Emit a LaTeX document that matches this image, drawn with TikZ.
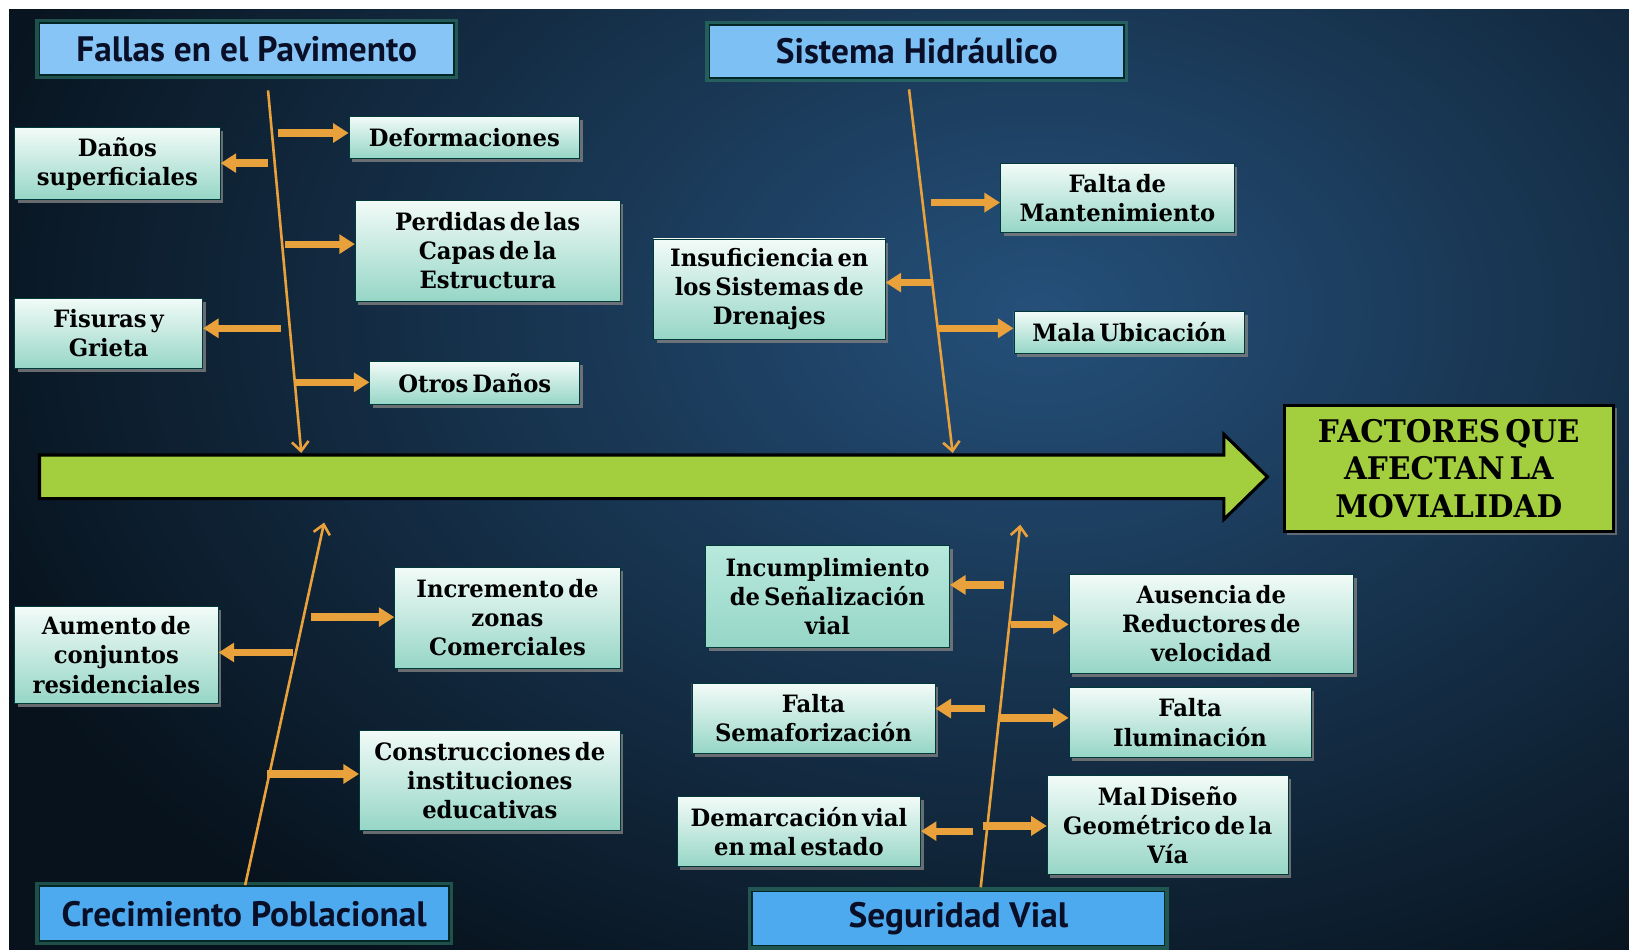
\documentclass[tikz,border=0pt]{standalone}
\usepackage{fontspec}
\setmainfont{DejaVu Serif}[FakeStretch=0.95,WordSpace=0.5]
\newfontfamily\hdrfont{PT Sans}
\usetikzlibrary{arrows.meta,shadows,calc}
\definecolor{hdrA}{HTML}{86C5F5}
\definecolor{hdrB}{HTML}{4DAAEE}
\definecolor{glowc}{HTML}{2E7A68}
\definecolor{boxtop}{HTML}{F2FBF8}
\definecolor{boxbot}{HTML}{96D6C6}
\definecolor{boxtopB}{HTML}{B8E9DD}
\definecolor{orng}{HTML}{E9A23B}
\definecolor{lime}{HTML}{A3CF3E}
\definecolor{bgin}{HTML}{25507A}
\definecolor{bgout}{HTML}{07121C}
\definecolor{hdrtext}{HTML}{0A0F28}
\newcommand\causefnt{\bfseries\fontsize{23}{28}\selectfont}
\newcommand\hdrfnt{\hdrfont\bfseries\fontsize{34}{36}\selectfont}
\newcommand\factfnt{\bfseries\fontsize{30}{36}\selectfont}
\tikzset{
  cause/.style={rectangle, draw=black!55!teal, line width=0.8pt,
    top color=boxtop, bottom color=boxbot,
    drop shadow={shadow xshift=3pt,shadow yshift=-3.5pt,opacity=0.8},
    align=center, inner sep=2pt, font=\causefnt, text=black},
  causeB/.style={cause, top color=boxtopB, bottom color=boxbot},
  header/.style={rectangle, draw=black!70!teal, line width=1.5pt,
    preaction={draw=glowc, line width=8pt, opacity=0.6},
    font=\hdrfnt, text=hdrtext},
  branch/.style={draw=orng, line width=7pt, -{Triangle[length=15pt,width=18pt]}},
  spine/.style={draw=orng, line width=2.5pt, -{Straight Barb[length=9pt,width=16pt]}},
}
\begin{document}
\begin{tikzpicture}[x=1pt,y=-1pt]
\useasboundingbox (0,0) rectangle (1568,914);
\fill[white] (0,0) rectangle (1568,914);
\begin{scope}
  \clip (8.7,8.7) rectangle (1568,914);
  \fill[bgout] (8.7,8.7) rectangle (1568,914);
  \shade[inner color=bgin, outer color=bgout] (1000,300) ellipse [x radius=1100, y radius=760];
\end{scope}

% main arrow
\draw[fill=lime, draw=black, line width=3pt, line join=miter]
  (38,438) -- (1178,438) -- (1178,418) -- (1220,459) -- (1178,500) -- (1178,480) -- (38,480) -- cycle;
\node[draw=black, line width=3pt, fill=lime, minimum width=317pt, minimum height=122pt,
  align=center, font=\factfnt, drop shadow={shadow xshift=3pt,shadow yshift=-3pt,opacity=0.7}]
  (fact) at (1394.5,451) {FACTORES QUE\\AFECTAN LA\\MOVIALIDAD};

% headers
\node[header, fill=hdrA, minimum width=399pt, minimum height=50pt] (fallas) at (237.5,47) {Fallas en el Pavimento};
\node[header, fill=hdrA!85!hdrB, minimum width=399pt, minimum height=51pt] (sistema) at (882.5,49.5) {Sistema Hidráulico};
\node[header, fill=hdrB, minimum width=394pt, minimum height=53pt] (crec) at (235,879.5) {Crecimiento Poblacional};
\node[header, fill=hdrB, minimum width=397pt, minimum height=52pt] (segur) at (922.5,884) {Seguridad Vial};

% cause boxes
\node[cause, minimum width=198pt, minimum height=69pt] (danos) at (113,157.5) {Daños\\superficiales};
\node[cause, minimum width=222pt, minimum height=40pt] (deform) at (447,132) {Deformaciones};
\node[cause, minimum width=255pt, minimum height=97pt] (perd) at (469.5,241.5) {Perdidas de las\\Capas de la\\Estructura};
\node[cause, minimum width=181pt, minimum height=68pt] (fisuras) at (104.5,321) {Fisuras y\\Grieta};
\node[cause, minimum width=202pt, minimum height=41pt] (otros) at (457,368.5) {Otros Daños};

\node[cause, minimum width=225pt, minimum height=67pt] (faltam) at (1075.5,190.5) {Falta de\\Mantenimiento};
\node[cause, minimum width=223pt, minimum height=97pt] (insuf) at (740.5,278.5) {Insuficiencia en\\los Sistemas de\\Drenajes};
\node[cause, minimum width=222pt, minimum height=40pt] (mala) at (1087,320) {Mala Ubicación};

\node[cause, minimum width=217pt, minimum height=97pt] (increm) at (488.5,594.5) {Incremento de\\zonas\\Comerciales};
\node[cause, minimum width=196pt, minimum height=93pt] (aumento) at (112,630.5) {Aumento de\\conjuntos\\residenciales};
\node[cause, minimum width=251pt, minimum height=96pt] (constr) at (471.5,751) {Construcciones de\\instituciones\\educativas};

\node[causeB, minimum width=235pt, minimum height=98pt] (incum) at (796.5,574) {Incumplimiento\\de Señalización\\vial};
\node[cause, minimum width=274pt, minimum height=95pt] (ausen) at (1166,600.5) {Ausencia de\\Reductores de\\velocidad};
\node[cause, minimum width=234pt, minimum height=67pt] (semaf) at (783,691.5) {Falta\\Semaforización};
\node[cause, minimum width=233pt, minimum height=67pt] (ilum) at (1145.5,695.5) {Falta\\Iluminación};
\node[cause, minimum width=234pt, minimum height=67pt] (demarc) at (769,800.5) {Demarcación vial\\en mal estado};
\node[cause, minimum width=232pt, minimum height=96pt] (maldis) at (1124,794) {Mal Diseño\\Geométrico de la\\Vía};

% spines
\coordinate (s1a) at (258,87);  \coordinate (s1b) at (290,436);
\coordinate (s2a) at (875,86);  \coordinate (s2b) at (917,436);
\coordinate (s3a) at (236,852); \coordinate (s3b) at (312,503);
\coordinate (s4a) at (944,854); \coordinate (s4b) at (982,505);
\draw[spine] (s1a) -- (s1b);
\draw[spine] (s2a) -- (s2b);
\draw[spine] (s3a) -- (s3b);
\draw[spine] (s4a) -- (s4b);

% branch arrows
\coordinate (bdeform) at (268,128);
\coordinate (bdanos) at (258,157);
\coordinate (bperd) at (274,235);
\coordinate (bfis) at (270,316);
\coordinate (botros) at (285,368);
\coordinate (bfaltam) at (896,195);
\coordinate (binsuf) at (896,272);
\coordinate (bmala) at (904,316);
\coordinate (bincrem) at (299,594);
\coordinate (baum) at (282,628);
\coordinate (bconstr) at (257,745);
\coordinate (bincum) at (966,563);
\coordinate (bausen) at (973,601);
\coordinate (bsemaf) at (948,682);
\coordinate (bilum) at (962,691);
\coordinate (bdemarc) at (937,800);
\coordinate (bmaldis) at (946,795);
\draw[branch] (bdeform) -- (bdeform -| deform.west);
\draw[branch] (bdanos) -- (bdanos -| danos.east);
\draw[branch] (bperd) -- (bperd -| perd.west);
\draw[branch] (bfis) -- (bfis -| fisuras.east);
\draw[branch] (botros) -- (botros -| otros.west);
\draw[branch] (bfaltam) -- (bfaltam -| faltam.west);
\draw[branch] (binsuf) -- (binsuf -| insuf.east);
\draw[branch] (bmala) -- (bmala -| mala.west);
\draw[branch] (bincrem) -- (bincrem -| increm.west);
\draw[branch] (baum) -- (baum -| aumento.east);
\draw[branch] (bconstr) -- (bconstr -| constr.west);
\draw[branch] (bincum) -- (bincum -| incum.east);
\draw[branch] (bausen) -- (bausen -| ausen.west);
\draw[branch] (bsemaf) -- (bsemaf -| semaf.east);
\draw[branch] (bilum) -- (bilum -| ilum.west);
\draw[branch] (bdemarc) -- (bdemarc -| demarc.east);
\draw[branch] (bmaldis) -- (bmaldis -| maldis.west);
\end{tikzpicture}
\end{document}
